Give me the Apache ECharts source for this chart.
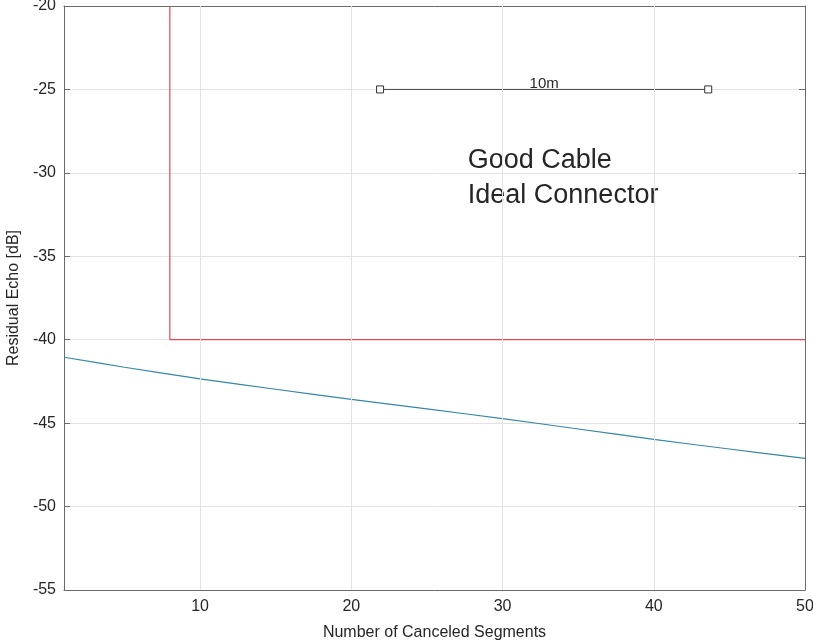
<!DOCTYPE html>
<html>
<head>
<meta charset="utf-8">
<script src="https://cdn.jsdelivr.net/npm/echarts@6/dist/echarts.min.js"></script>
<style>
  html, body { margin: 0; padding: 0; background: #fff; }
  #chart { width: 813px; height: 640px; }
</style>
</head>
<body>
<div id="chart"></div>
<script>
// Residual echo vs. number of canceled segments
const segments = [1, 5, 10, 15, 20, 25, 30, 35, 40, 45, 50];
const residualEcho = [-41.05, -41.65, -42.35, -42.97, -43.57, -44.15, -44.73, -45.35, -45.97, -46.55, -47.11];

// Threshold step: vertical at 8 segments, then flat at -40 dB
const stepX = [8, 8, 50];
const stepY = [-20, -40, -40];

// Cable length marker
const spanX = [21.9, 43.6];
const spanY = -25;
const spanLabel = '10m';

const noteLines = ['Good Cable', 'Ideal Connector'];
const noteX = 27.7;
const noteY = -30.31;

const xTicks = [10, 20, 30, 40, 50];
const xGridValues = [10, 20, 30, 40];

const FONT = '"Liberation Sans", Arial, Helvetica, sans-serif';
const AXIS_COLOR = '#6b6b6b';
const TEXT_COLOR = '#262626';
const GRID_COLOR = '#e3e3e3';

const chart = echarts.init(document.getElementById('chart'));

const zip = (xs, ys) => xs.map((x, i) => [x, ys[i]]);

const plainText = (extra) => Object.assign({
  fontFamily: FONT, color: TEXT_COLOR, opacity: 1,
  textBorderWidth: 0, textShadowBlur: 0
}, extra);

chart.setOption({
  animation: false,
  grid: { left: 64, right: 8, top: 6, bottom: 50, outerBoundsMode: 'none', containLabel: false },
  xAxis: [
    {
      type: 'value', min: 1, max: 50,
      name: 'Number of Canceled Segments',
      nameLocation: 'middle', nameGap: 35,
      nameTextStyle: plainText({ fontSize: 16 }),
      axisLine: { show: true, onZero: false, lineStyle: { color: AXIS_COLOR, width: 1 } },
      axisTick: { show: true, inside: true, length: 6, customValues: xTicks, lineStyle: { color: AXIS_COLOR } },
      axisLabel: plainText({ customValues: xTicks, fontSize: 16, margin: 9 }),
      splitLine: { show: false }
    },
    {
      type: 'value', min: 1, max: 50, position: 'top',
      axisLine: { show: true, onZero: false, lineStyle: { color: AXIS_COLOR, width: 1 } },
      axisTick: { show: true, inside: true, length: 6, customValues: xTicks, lineStyle: { color: AXIS_COLOR } },
      axisLabel: { show: false },
      splitLine: { show: false }
    }
  ],
  yAxis: [
    {
      type: 'value', min: -55, max: -20, interval: 5,
      name: 'Residual Echo [dB]',
      nameLocation: 'middle', nameGap: 39, nameRotate: 90,
      nameTextStyle: plainText({ fontSize: 16 }),
      axisLine: { show: true, onZero: false, lineStyle: { color: AXIS_COLOR, width: 1 } },
      axisTick: { show: true, inside: true, length: 6, lineStyle: { color: AXIS_COLOR } },
      axisLabel: plainText({ fontSize: 16, margin: 8 }),
      splitLine: { show: true, lineStyle: { color: GRID_COLOR, width: 1 } }
    },
    {
      type: 'value', min: -55, max: -20, interval: 5, position: 'right',
      axisLine: { show: true, onZero: false, lineStyle: { color: AXIS_COLOR, width: 1 } },
      axisTick: { show: true, inside: true, length: 6, lineStyle: { color: AXIS_COLOR } },
      axisLabel: { show: false },
      splitLine: { show: false }
    }
  ],
  series: [
    {
      // vertical grid lines at the major x ticks
      type: 'line', data: [], silent: true,
      markLine: {
        silent: true, symbol: 'none', animation: false,
        label: { show: false },
        lineStyle: { color: GRID_COLOR, width: 1, type: 'solid' },
        data: xGridValues.map(v => ({ xAxis: v }))
      }
    },
    {
      name: 'Threshold', type: 'line', data: zip(stepX, stepY),
      symbol: 'none', lineStyle: { color: '#e4484f', width: 1.2 }, z: 3
    },
    {
      name: 'Residual Echo', type: 'line', data: zip(segments, residualEcho),
      symbol: 'none', smooth: 0.3, lineStyle: { color: '#3587a8', width: 1.2 }, z: 3
    },
    {
      name: 'Span', type: 'line', data: spanX.map(x => [x, spanY]),
      symbol: 'rect', symbolSize: 7,
      itemStyle: { color: '#ffffff', borderColor: '#333333', borderWidth: 1 },
      lineStyle: { color: '#444444', width: 1 }, z: 4
    },
    {
      type: 'scatter', symbolSize: 0, silent: true,
      itemStyle: { opacity: 1 },
      data: [[(spanX[0] + spanX[1]) / 2, spanY]],
      label: plainText({
        show: true, position: 'top', distance: -2, formatter: spanLabel, fontSize: 15
      })
    },
    {
      type: 'scatter', symbolSize: 0, silent: true,
      itemStyle: { opacity: 1 },
      data: [[noteX, noteY]],
      label: plainText({
        show: true, position: 'right', distance: 0, align: 'left', verticalAlign: 'middle',
        formatter: noteLines.join('\n'), lineHeight: 35, fontSize: 27
      })
    }
  ]
});
</script>
</body>
</html>
